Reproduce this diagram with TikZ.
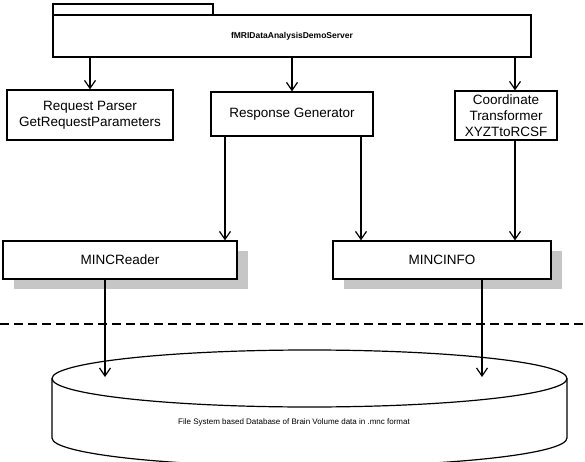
\documentclass[tikz,border=0pt]{standalone}
\usepackage{fontspec}
\setmainfont{Liberation Sans}
\usetikzlibrary{arrows.meta}
\usetikzlibrary{positioning}
\usetikzlibrary{shadows}

\tikzset{
  compbox/.style={draw,fill=white,align=center,inner sep=0pt,font=\fontsize{13.5}{16}\selectfont},
  shadowbox/.style={compbox,drop shadow={shadow xshift=11pt,shadow yshift=-10pt,fill=gray!45,opacity=1}},
}

\begin{document}
\begin{tikzpicture}[x=1pt,y=-1pt,line width=1.2pt,>={Straight Barb[length=8pt,width=11pt]}]
\useasboundingbox (0,0) rectangle (585,462);

% server package
\draw (53,4) rectangle (213,15);
\node[draw,fill=white,minimum width=478pt,minimum height=42pt,font=\bfseries\fontsize{8.5}{10}\selectfont] (server) at (292,36) {fMRIDataAnalysisDemoServer};

% components
\node[compbox,minimum width=166pt,minimum height=50pt] (parser) at (90,115) {Request Parser\\GetRequestParameters};
\node[compbox,minimum width=162pt,minimum height=44pt] (respgen) at (292,114) {Response Generator};
\node[compbox,minimum width=102pt,minimum height=49pt] (xform) at (506,115.5) {Coordinate\\Transformer\\XYZTtoRCSF};
\node[shadowbox,minimum width=234pt,minimum height=38pt] (reader) at (120,260) {MINCReader};
\node[shadowbox,minimum width=218pt,minimum height=38pt] (info) at (442,260) {MINCINFO};

\coordinate (cx) at (515,0);
\coordinate (gl) at (225,0);
\coordinate (gr) at (361,0);
\coordinate (dbl) at (105,377);
\coordinate (dbr) at (482,377);

\draw[->] (server.south -| parser.north) -- (parser.north);
\draw[->] (server.south -| respgen.north) -- (respgen.north);
\draw[->] (server.south -| cx) -- (xform.north -| cx);
\draw[->] (respgen.south -| gl) -- (reader.north -| gl);
\draw[->] (respgen.south -| gr) -- (info.north -| gr);
\draw[->] (xform.south -| cx) -- (info.north -| cx);

% boundary
\draw[line width=2pt,dash pattern=on 9pt off 5pt] (0,324) -- (585,324);

% database
\draw (309.5,378.5) ellipse [x radius=257.5pt,y radius=28.5pt];
\draw (52,378.5) -- (52,438) arc[start angle=180,end angle=360,x radius=257.5pt,y radius=28.5pt] -- (567,378.5);
\node[font=\fontsize{8}{10}\selectfont] (db) at (294,422) {File System based Database of Brain Volume data in .mnc format};

\draw[->] (reader.south -| dbl) -- (dbl);
\draw[->] (info.south -| dbr) -- (dbr);

\end{tikzpicture}
\end{document}
